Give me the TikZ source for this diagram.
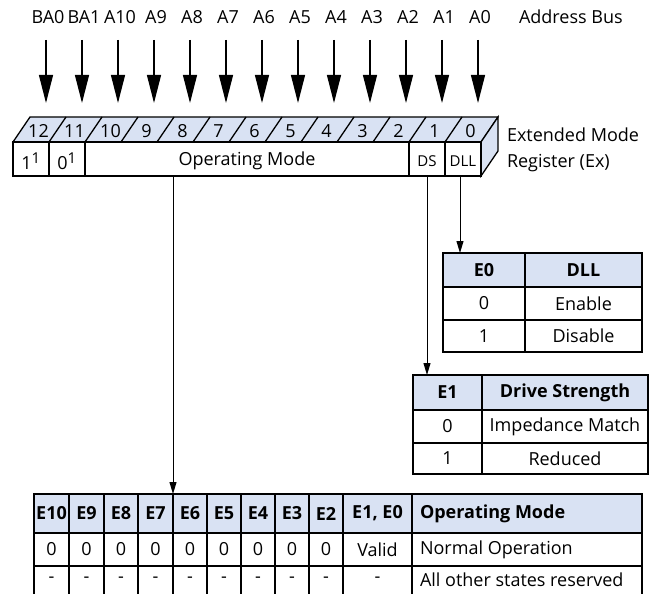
\documentclass[tikz,border=0pt]{standalone}
\usepackage{fontspec}
\setmainfont{Open Sans}
\usetikzlibrary{arrows.meta}
\definecolor{hdr}{RGB}{217,226,243}
\begin{document}
\begin{tikzpicture}[x=1pt,y=-1pt,
  every node/.style={inner sep=0pt,outer sep=0pt},
  txt/.style={font=\fontsize{18}{21}\selectfont},
  cell/.style={draw,line width=1.3pt,fill=white,anchor=north west,font=\fontsize{18}{21}\selectfont},
  hcell/.style={cell,fill=hdr,font=\fontsize{18}{21}\selectfont\bfseries},
  regline/.style={line width=1.3pt},
  bigarrow/.style={line width=1.2pt,-{Triangle[width=14pt,length=28pt]}},
  smallarrow/.style={line width=1pt,-{Triangle[width=7pt,length=12pt]}}]
\useasboundingbox (0,0) rectangle (657,594);
\clip (0,0) rectangle (657,594);
% address bus
\foreach \lab [count=\k from 0] in {BA0,BA1,A10,A9,A8,A7,A6,A5,A4,A3,A2,A1,A0}{
  \node[txt] (ad\k) at ({48+36*\k},17) {\lab};
  \coordinate (as\k) at ({46+36*\k},40);
  \coordinate (at\k) at ({46+36*\k},103);
  \draw[bigarrow] (as\k) -- (at\k);
}
\node[txt,anchor=west] (abus) at (519,17) {Address Bus};
% register top and side faces
\filldraw[regline,fill=hdr] (13,142) -- (30,117) -- (498,117) -- (481,142) -- cycle;
\filldraw[regline,fill=hdr] (481,142) -- (498,117) -- (498,151) -- (481,176) -- cycle;
\foreach \k in {1,...,12}{\draw[regline] ({13+36*\k},142) -- ({30+36*\k},117);}
\foreach \n [count=\k from 0] in {12,11,10,9,8,7,6,5,4,3,2,1,0}{
  \node[txt] (bit\n) at ({38.5+36*\k},131) {\n};
}
% register front cells
\node[cell,minimum width=36,minimum height=34] (r12) at (13,142) {};
\node[cell,minimum width=36,minimum height=34] (r11) at (49,142) {};
\node[cell,minimum width=324,minimum height=34] (om) at (85,142) {};
\node[cell,minimum width=36,minimum height=34] (ds) at (409,142) {};
\node[cell,minimum width=36,minimum height=34] (dll) at (445,142) {};
\node[txt] (r12t) at ([yshift=-2pt]r12.center) {1\textsuperscript{\fontsize{15}{15}\selectfont 1}};
\node[txt] (r11t) at ([yshift=-2pt]r11.center) {0\textsuperscript{\fontsize{15}{15}\selectfont 1}};
\node[txt] (omt) at ([yshift=-2pt]om.center) {Operating Mode};
\node[txt,font=\fontsize{15}{17}\selectfont] (dst) at ([yshift=-2pt]ds.center) {DS};
\node[txt,font=\fontsize{15}{17}\selectfont] (dllt) at ([yshift=-2pt]dll.center) {DLL};
\node[txt,anchor=west,align=left,font=\fontsize{18}{26}\selectfont] (emr) at (507,150) {Extended Mode\\Register (Ex)};
% E0 table
\node[hcell,minimum width=82,minimum height=34] (e0h) at (443,253) {E0};
\node[hcell,minimum width=117,minimum height=34] (dllh) at (525,253) {DLL};
\node[cell,minimum width=82,minimum height=33] (e0a) at (443,287) {0};
\node[cell,minimum width=117,minimum height=33] (e0b) at (525,287) {Enable};
\node[cell,minimum width=82,minimum height=32] (e0c) at (443,320) {1};
\node[cell,minimum width=117,minimum height=32] (e0d) at (525,320) {Disable};
% E1 table
\node[hcell,minimum width=69,minimum height=35] (e1h) at (413,375) {E1};
\node[hcell,minimum width=166,minimum height=35] (dsh) at (482,375) {Drive Strength};
\node[cell,minimum width=69,minimum height=33] (e1a) at (413,410) {0};
\node[cell,minimum width=166,minimum height=33] (e1b) at (482,410) {Impedance Match};
\node[cell,minimum width=69,minimum height=31] (e1c) at (413,443) {1};
\node[cell,minimum width=166,minimum height=31] (e1d) at (482,443) {Reduced};
% operating mode table
\foreach \xa/\xb/\h/\v/\w [count=\i] in {34/69/E10/0/-,69/104/E9/0/-,104/138/E8/0/-,138/173/E7/0/-,173/207/E6/0/-,207/241/E5/0/-,241/275/E4/0/-,275/309/E3/0/-,309/343/E2/0/-,343/412/{E1, E0}/Valid/-}{
  \node[hcell,minimum width={\xb-\xa},minimum height=39] (bh\i) at (\xa,494) {\h};
  \node[cell,minimum width={\xb-\xa},minimum height=33] (ba\i) at (\xa,533) {\v};
  \node[cell,minimum width={\xb-\xa},minimum height=40] (bb\i) at (\xa,566) {};
  \node[txt] (bt\i) at ({(\xa+\xb)/2},580) {\w};
}
\node[hcell,minimum width=230,minimum height=39] (bhm) at (412,494) {};
\node[cell,minimum width=230,minimum height=33] (bam) at (412,533) {};
\node[cell,minimum width=230,minimum height=40] (bbm) at (412,566) {};
\node[txt,anchor=west,font=\fontsize{18}{21}\selectfont\bfseries] (tm1) at ([xshift=8pt]bhm.west) {Operating Mode};
\node[txt,anchor=west] (tm2) at ([xshift=8pt]bam.west) {Normal Operation};
\node[txt,anchor=west] (tm3) at (420,580) {All other states reserved};
% connectors
\draw[smallarrow] (om.south -| bh5.north west) -- (bh5.north west);
\draw[smallarrow] (ds.south) -- (ds.south |- e1h.north);
\draw[smallarrow] ([xshift=-3pt]dll.south) -- ([xshift=-3pt]dll.south |- e0h.north);
\end{tikzpicture}
\end{document}
